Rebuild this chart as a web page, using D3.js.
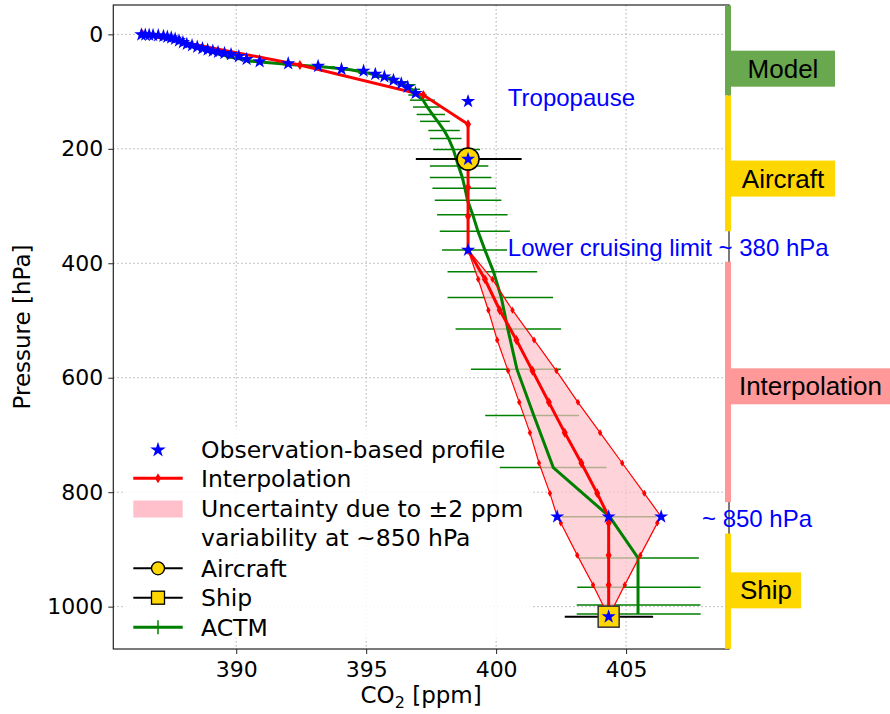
<!DOCTYPE html>
<html>
<head>
<meta charset="utf-8">
<script src="https://cdn.jsdelivr.net/npm/d3@7"></script>
<style>
    body { margin: 0; background: #fff; }
    svg { display: block; }
    text { font-family: "DejaVu Sans", sans-serif; fill: #000; }
    .note { font-family: "Liberation Sans", Arial, sans-serif; }
</style>
</head>
<body>
<div id="chart"></div>
<script>
// observation-based profile (blue stars)
const obsCO2 = [386.35, 386.5, 386.65, 386.8, 387.0, 387.2, 387.35, 387.5, 387.65, 387.8, 387.95, 388.1, 388.3, 388.5,
    388.7, 388.9, 389.1, 389.3, 389.55, 389.8, 390.1, 390.4, 390.9, 392.0, 393.15, 394.05, 394.9, 395.35, 395.7, 396.05,
    396.35, 396.6, 396.9, 398.92, 398.92, 398.92, 402.35, 404.33, 406.35, 404.33];
const obsP = [0.5, 0.8, 1, 1.5, 2, 3, 4.5, 6, 8, 11, 14, 17, 19.5, 22, 24.5, 27, 29, 31, 33, 35, 38.5, 43.5, 47.5, 51,
    55.5, 61, 64, 69.5, 74, 80, 86, 92, 103, 117, 218, 376.8, 842.8, 842.8, 842.8, 1017.5];

// interpolation (red line)
const interpP = [0, 53.6, 106, 157, 218, 267, 318, 376.8, 428, 482, 534, 588, 643, 696, 749, 802, 842.8, 854, 910, 962, 1017.5];
const interpCO2 = [386.4, 392.45, 397.2, 398.92, 398.92, 398.92, 398.92, 398.92, 399.57, 400.14, 400.78, 401.4, 402.03,
    402.64, 403.28, 403.89, 404.33, 404.33, 404.33, 404.33, 404.33];

// uncertainty band (+-2 ppm at ~850 hPa)
const bandP = [376.8, 428, 482, 534, 588, 643, 696, 749, 802, 842.8, 854, 910, 962, 1017.5];
const bandLo = [398.92, 399.31, 399.7, 400.04, 400.46, 400.89, 401.3, 401.65, 402.07, 402.35, 402.49, 403.12, 403.73, 404.33];
const bandHi = [398.92, 399.86, 400.63, 401.46, 402.32, 403.15, 404.0, 404.85, 405.7, 406.35, 406.2, 405.55, 404.95, 404.33];

// ACTM model profile with spread
const actmP = [2, 8, 16, 25, 33, 41, 48, 53, 57, 62, 68, 75, 83, 88, 96, 106, 115, 127, 140, 152, 168, 182, 201, 230,
    250, 269, 290, 315, 344, 377, 415, 460, 515, 585, 666, 757, 843, 915, 966, 997, 1013];
const actmCO2 = [386.9, 387.4, 388.0, 388.6, 389.2, 389.9, 390.8, 392.2, 393.4, 394.4, 395.1, 395.7, 396.2, 396.5,
    396.75, 396.95, 397.19, 397.35, 397.55, 397.75, 398.0, 398.17, 398.35, 398.55, 398.7, 398.8, 398.9, 399.1, 399.3,
    399.57, 399.9, 400.2, 400.45, 400.8, 401.45, 402.2, 404.37, 405.46, 405.46, 405.46, 405.46];
const actmLo = [386.8, 387.3, 387.85, 388.4, 388.95, 389.6, 390.4, 391.8, 393.0, 394.0, 394.7, 395.3, 395.9, 396.2,
    396.45, 396.62, 396.68, 396.8, 396.94, 397.07, 397.39, 397.45, 397.58, 397.45, 397.45, 397.55, 397.64, 397.73,
    397.83, 397.92, 398.13, 398.13, 398.44, 399.03, 399.58, 400.14, 402.52, 403.22, 403.12, 403.1, 403.1];
const actmHi = [387.0, 387.5, 388.15, 388.8, 389.5, 390.2, 391.2, 392.6, 393.8, 394.8, 395.5, 396.1, 396.6, 396.9,
    397.07, 397.33, 397.64, 397.82, 398.03, 398.22, 398.6, 398.67, 399.38, 399.7, 399.82, 400.0, 400.2, 400.44,
    400.53, 400.42, 401.58, 402.19, 402.5, 402.49, 403.19, 404.25, 406.17, 407.8, 407.87, 407.86, 407.87];

// aircraft and ship observations
const aircraft = {co2: 398.92, p: 218, lo: 396.91, hi: 400.98};
const ship = {co2: 404.33, p: 1017.5, lo: 402.64, hi: 406.04};

// ticks
const xTicks = [390, 395, 400, 405];
const yTicks = [0, 200, 400, 600, 800, 1000];

// blue notes
const noteText = ["Tropopause", "Lower cruising limit ~ 380 hPa", "~ 850 hPa"];
const noteCO2 = [400.45, 400.45, 407.92];
const noteP = [111, 373, 847];

// source segments along the right edge
const segName = ["Model", "Aircraft", "Interpolation", "Ship"];
const segTop = [-50.5, 106.9, 397.3, 872.3];
const segBottom = [106.9, 344, 817.4, 1073.7];
const segLabelP = [60, 252, 615, 971.5];
const segColor = ["#6aa84f", "#ffd700", "#ff9999", "#ffd700"];
const segBoxRight = [835, 835, 894, 801];

const W = 890, H = 714;
const svg = d3.select("#chart").append("svg").attr("width", W).attr("height", H);
svg.append("rect").attr("width", W).attr("height", H).attr("fill", "#fff");

const x = d3.scaleLinear().domain([385.27, 408.96]).range([113.3, 729]);
const y = d3.scaleLinear().domain([-51.3, 1074]).range([5, 649]);
const [x0, x1] = x.range(), [y0, y1] = y.range();

// grid
let grid = svg.append("g").attr("stroke", "#b0b0b0").attr("stroke-width", 1).attr("stroke-dasharray", "1.5,2.5");
grid.selectAll(".gx").data(xTicks).join("line")
    .attr("x1", d => x(d)).attr("x2", d => x(d)).attr("y1", y0).attr("y2", y1);
grid.selectAll(".gy").data(yTicks).join("line")
    .attr("y1", d => y(d)).attr("y2", d => y(d)).attr("x1", x0).attr("x2", x1);

// legend background sits under the data
const legX = 124, legY = 428;
svg.append("rect").attr("x", legX).attr("y", legY).attr("width", 408).attr("height", 210)
    .attr("rx", 4).attr("fill", "#fff").attr("fill-opacity", 0.85);

// ACTM spread bars
svg.append("g").selectAll("line").data(actmP).join("line")
    .attr("x1", (d, i) => x(actmLo[i])).attr("x2", (d, i) => x(actmHi[i]))
    .attr("y1", d => y(d)).attr("y2", d => y(d))
    .attr("stroke", "green").attr("stroke-width", 1.5);

// uncertainty band
const bandPts = bandP.map((p, i) => [x(bandLo[i]), y(p)])
    .concat(bandP.map((p, i) => [x(bandHi[i]), y(p)]).reverse());
svg.append("path").attr("d", "M" + bandPts.join("L") + "Z")
    .attr("fill", "pink").attr("fill-opacity", 0.7);

// ACTM line
const line = d3.line();
svg.append("path")
    .attr("d", line(actmP.map((p, i) => [x(actmCO2[i]), y(p)])))
    .attr("fill", "none").attr("stroke", "green").attr("stroke-width", 3);

// diamonds for the red lines
function diamond(g, cx, cy, w, h) {
    g.append("path")
        .attr("d", `M${cx},${cy - h}L${cx + w},${cy}L${cx},${cy + h}L${cx - w},${cy}Z`)
        .attr("fill", "red");
}

[bandLo, bandHi].forEach(function(arr) {
    svg.append("path")
        .attr("d", line(bandP.map((p, i) => [x(arr[i]), y(p)])))
        .attr("fill", "none").attr("stroke", "red").attr("stroke-width", 1.2);
    let g = svg.append("g");
    bandP.forEach((p, i) => diamond(g, x(arr[i]), y(p), 2.2, 3.5));
});

svg.append("path")
    .attr("d", line(interpP.map((p, i) => [x(interpCO2[i]), y(p)])))
    .attr("fill", "none").attr("stroke", "red").attr("stroke-width", 3);
let dg = svg.append("g");
interpP.forEach((p, i) => diamond(dg, x(interpCO2[i]), y(p), 3, 5));

// aircraft
svg.append("line").attr("x1", x(aircraft.lo)).attr("x2", x(aircraft.hi))
    .attr("y1", y(aircraft.p)).attr("y2", y(aircraft.p)).attr("stroke", "#000").attr("stroke-width", 2);
svg.append("circle").attr("cx", x(aircraft.co2)).attr("cy", y(aircraft.p)).attr("r", 11)
    .attr("fill", "#ffd700").attr("stroke", "#000").attr("stroke-width", 1.5);

// ship
svg.append("line").attr("x1", x(ship.lo)).attr("x2", x(ship.hi))
    .attr("y1", y(ship.p)).attr("y2", y(ship.p)).attr("stroke", "#000").attr("stroke-width", 2);
svg.append("rect").attr("x", x(ship.co2) - 10.5).attr("y", y(ship.p) - 10.5).attr("width", 21).attr("height", 21)
    .attr("fill", "#ffd700").attr("stroke", "#333").attr("stroke-width", 1.5);

// stars
const star = d3.symbol().type(d3.symbolStar).size(62);
svg.append("g").selectAll("path").data(obsP).join("path")
    .attr("d", star)
    .attr("transform", (d, i) => `translate(${x(obsCO2[i])},${y(d)})`)
    .attr("fill", "blue");

// frame
svg.append("rect").attr("x", x0).attr("y", y0).attr("width", x1 - x0).attr("height", y1 - y0)
    .attr("fill", "none").attr("stroke", "#222").attr("stroke-width", 1.2);

// axes
const xAxis = svg.append("g").attr("transform", `translate(0,${y1})`)
    .call(d3.axisBottom(x).tickValues(xTicks).tickSize(5).tickPadding(7).tickFormat(d3.format("d")));
const yAxis = svg.append("g").attr("transform", `translate(${x0},0)`)
    .call(d3.axisLeft(y).tickValues(yTicks).tickSize(5).tickPadding(5).tickFormat(d3.format("d")));
[xAxis, yAxis].forEach(function(a) {
    a.select(".domain").remove();
    a.selectAll("line").attr("stroke", "#222");
    a.selectAll("text").style("font-size", "22px").attr("fill", "#000");
});

// axis labels
svg.append("text").attr("transform", "translate(30,327) rotate(-90)")
    .attr("text-anchor", "middle").style("font-size", "23px").text("Pressure [hPa]");
let xl = svg.append("text").attr("x", (x0 + x1) / 2).attr("y", 703)
    .attr("text-anchor", "middle").style("font-size", "23px");
xl.append("tspan").text("CO");
xl.append("tspan").attr("dy", 5).style("font-size", "16px").text("2");
xl.append("tspan").attr("dy", -5).text(" [ppm]");

// blue notes
svg.append("g").selectAll("text").data(noteText).join("text")
    .attr("class", "note")
    .attr("x", (d, i) => x(noteCO2[i])).attr("y", (d, i) => y(noteP[i])).attr("dy", "0.35em")
    .style("font-size", "24px").style("fill", "blue")
    .text(d => d);

// right side segments
let seg = svg.append("g");
segName.forEach(function(name, i) {
    seg.append("rect").attr("x", 725).attr("y", y(segTop[i]))
        .attr("width", 6).attr("height", y(segBottom[i]) - y(segTop[i])).attr("fill", segColor[i]);
    let cy = y(segLabelP[i]);
    seg.append("rect").attr("x", 731).attr("y", cy - 18).attr("width", segBoxRight[i] - 731).attr("height", 36)
        .attr("fill", segColor[i]);
    seg.append("text").attr("class", "note")
        .attr("x", (731 + segBoxRight[i]) / 2 - (i === 2 ? 2 : 0)).attr("y", cy).attr("dy", "0.35em")
        .attr("text-anchor", "middle").style("font-size", "26px").text(name);
});

// legend
const lg = svg.append("g");
const hx0 = 133.3, hx1 = 182.7, hc = (hx0 + hx1) / 2, tx = 201;
const rows = [450, 478.3, 509, 568.3, 597.7, 627.3];
lg.append("path").attr("d", d3.symbol().type(d3.symbolStar).size(75)).attr("transform", `translate(${hc},${rows[0]})`).attr("fill", "blue");
lg.append("line").attr("x1", hx0).attr("x2", hx1).attr("y1", rows[1]).attr("y2", rows[1]).attr("stroke", "red").attr("stroke-width", 3);
diamond(lg, hc, rows[1], 3, 5);
lg.append("rect").attr("x", hx0).attr("y", rows[2] - 8.5).attr("width", hx1 - hx0).attr("height", 17).attr("fill", "pink");
lg.append("line").attr("x1", hx0).attr("x2", hx1).attr("y1", rows[3]).attr("y2", rows[3]).attr("stroke", "#000").attr("stroke-width", 2);
lg.append("circle").attr("cx", hc).attr("cy", rows[3]).attr("r", 6.5).attr("fill", "#ffd700").attr("stroke", "#000").attr("stroke-width", 1.3);
lg.append("line").attr("x1", hx0).attr("x2", hx1).attr("y1", rows[4]).attr("y2", rows[4]).attr("stroke", "#000").attr("stroke-width", 2);
lg.append("rect").attr("x", hc - 6.5).attr("y", rows[4] - 6.5).attr("width", 13).attr("height", 13).attr("fill", "#ffd700").attr("stroke", "#000").attr("stroke-width", 1.3);
lg.append("line").attr("x1", hx0).attr("x2", hx1).attr("y1", rows[5]).attr("y2", rows[5]).attr("stroke", "green").attr("stroke-width", 3);
lg.append("line").attr("x1", hc).attr("x2", hc).attr("y1", rows[5] - 7).attr("y2", rows[5] + 7).attr("stroke", "green").attr("stroke-width", 1.5);

const legText = ["Observation-based profile", "Interpolation", "Uncertainty due to \u00b12 ppm", "Aircraft", "Ship", "ACTM"];
lg.selectAll("text").data(legText).join("text")
    .attr("x", tx).attr("y", (d, i) => rows[i]).attr("dy", "0.36em")
    .style("font-size", "23.5px").text(d => d);
lg.append("text").attr("x", tx).attr("y", 537.3).attr("dy", "0.36em").style("font-size", "23.5px")
    .text("variability at ~850 hPa");
</script>
</body>
</html>
